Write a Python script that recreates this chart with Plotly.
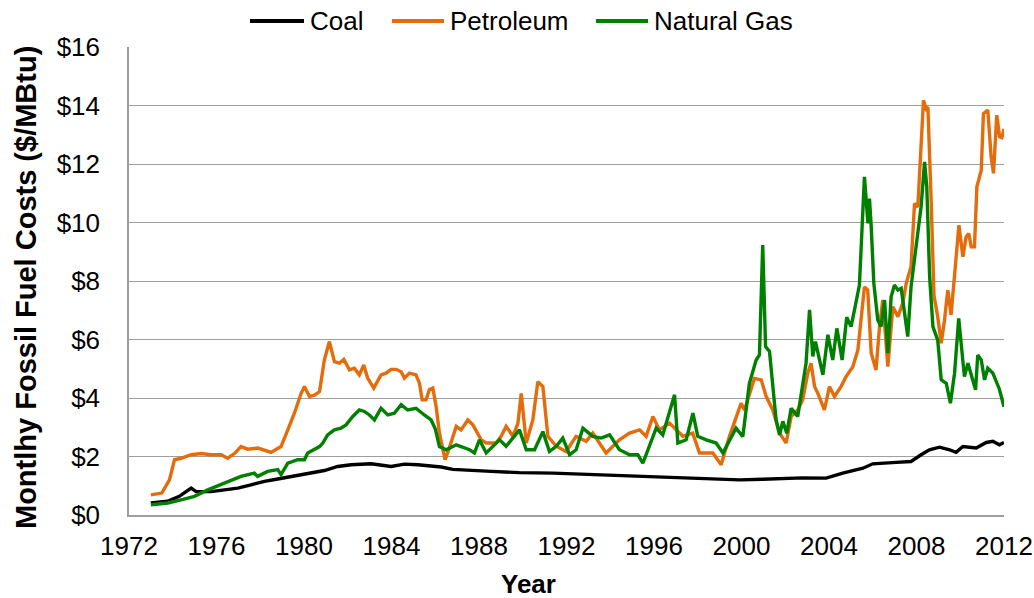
import plotly.graph_objects as go

# ---- data ----
coal_years = [1973.0, 1973.77, 1974.3, 1974.84, 1975.07, 1975.75, 1976.36, 1976.97, 1977.58, 1978.19,
              1978.8, 1979.41, 1980.17, 1980.93, 1981.54, 1982.15, 1983.07, 1983.98, 1984.59, 1985.2,
              1986.27, 1986.8, 1988.33, 1989.85, 1991.38, 1992.9, 1994.42, 1995.95, 1997.47, 1999.0,
              1999.91, 2000.97, 2002.8, 2003.87, 2004.63, 2005.55, 2006.0, 2007.07, 2007.75, 2008.21,
              2008.59, 2009.05, 2009.51, 2009.81, 2010.12, 2010.73, 2011.19, 2011.49, 2011.79, 2012.0]
coal_vals = [0.41, 0.47, 0.64, 0.92, 0.8, 0.8, 0.86, 0.92, 1.03, 1.15,
             1.23, 1.32, 1.43, 1.52, 1.66, 1.72, 1.75, 1.66, 1.74, 1.72,
             1.64, 1.56, 1.5, 1.45, 1.43, 1.39, 1.34, 1.32, 1.28, 1.24,
             1.2, 1.22, 1.27, 1.26, 1.43, 1.6, 1.75, 1.8, 1.83, 2.06,
             2.23, 2.32, 2.23, 2.14, 2.34, 2.29, 2.48, 2.52, 2.4, 2.48]

petro_years = [1973.0, 1973.5, 1973.85, 1974.08, 1974.38, 1974.84, 1975.3, 1975.75, 1976.21, 1976.51,
               1976.82, 1977.12, 1977.43, 1977.89, 1978.49, 1978.95, 1979.26, 1979.56, 1979.87, 1980.02,
               1980.25, 1980.48, 1980.71, 1980.93, 1981.16, 1981.39, 1981.62, 1981.82, 1982.08, 1982.3,
               1982.53, 1982.73, 1982.91, 1983.19, 1983.52, 1983.75, 1983.98, 1984.21, 1984.44, 1984.59,
               1984.82, 1985.12, 1985.28, 1985.4, 1985.58, 1985.73, 1985.89, 1986.04, 1986.19, 1986.45,
               1986.6, 1986.96, 1987.18, 1987.49, 1987.72, 1987.95, 1988.1, 1988.33, 1988.78, 1989.01,
               1989.24, 1989.55, 1989.78, 1989.93, 1990.16, 1990.46, 1990.69, 1990.92, 1991.15, 1991.53,
               1991.98, 1992.44, 1992.9, 1993.2, 1993.81, 1994.42, 1994.88, 1995.34, 1995.64, 1995.95,
               1996.25, 1996.71, 1997.32, 1997.77, 1998.08, 1998.69, 1999.07, 1999.45, 1999.75, 1999.98,
               2000.14, 2000.36, 2000.59, 2000.9, 2001.13, 2001.43, 2001.74, 2002.04, 2002.27, 2002.57,
               2002.8, 2003.03, 2003.18, 2003.34, 2003.49, 2003.79, 2004.02, 2004.25, 2004.55, 2004.78,
               2005.09, 2005.32, 2005.47, 2005.62, 2005.77, 2005.93, 2006.15, 2006.31, 2006.46, 2006.69,
               2006.92, 2007.15, 2007.37, 2007.53, 2007.75, 2007.91, 2008.06, 2008.21, 2008.32, 2008.44,
               2008.52, 2008.67, 2008.8, 2008.97, 2009.13, 2009.28, 2009.43, 2009.58, 2009.81, 2009.94,
               2010.12, 2010.27, 2010.39, 2010.5, 2010.65, 2010.76, 2010.96, 2011.06, 2011.26, 2011.41,
               2011.52, 2011.67, 2011.8, 2011.9, 2012.0]
petro_vals = [0.69, 0.75, 1.2, 1.89, 1.94, 2.06, 2.1, 2.06, 2.06, 1.94,
              2.1, 2.34, 2.25, 2.29, 2.14, 2.34, 2.91, 3.48, 4.16, 4.39,
              4.05, 4.1, 4.22, 5.3, 5.93, 5.24, 5.19, 5.32, 4.96, 5.02,
              4.79, 5.13, 4.68, 4.34, 4.79, 4.85, 4.98, 4.98, 4.9, 4.68,
              4.85, 4.79, 4.5, 3.94, 3.94, 4.28, 4.34, 3.71, 2.8, 1.89,
              2.2, 3.03, 2.91, 3.25, 3.08, 2.8, 2.57, 2.46, 2.46, 2.69,
              3.03, 2.69, 3.14, 4.16, 2.46, 3.25, 4.56, 4.39, 2.69, 2.35,
              2.17, 2.69, 2.52, 2.8, 2.12, 2.57, 2.8, 2.91, 2.69, 3.37,
              2.91, 3.14, 2.69, 2.8, 2.12, 2.12, 1.72, 2.69, 3.36, 3.82,
              3.59, 4.16, 4.67, 4.62, 4.05, 3.59, 2.8, 2.46, 3.37, 3.59,
              3.94, 4.85, 5.19, 4.39, 4.16, 3.59, 4.39, 4.05, 4.39, 4.73,
              5.07, 5.64, 6.66, 7.8, 7.69, 5.53, 4.96, 6.44, 7.35, 5.07,
              7.12, 6.78, 7.24, 7.92, 8.49, 10.65, 10.53, 12.81, 14.18, 13.89,
              13.95, 10.76, 7.5, 6.78, 5.87, 6.66, 7.69, 6.84, 8.72, 9.91,
              8.83, 9.51, 9.62, 9.17, 9.17, 11.22, 11.79, 13.72, 13.84, 12.25,
              11.68, 13.67, 12.93, 12.9, 13.2]

gas_years = [1973.0, 1973.77, 1974.38, 1974.99, 1975.6, 1976.36, 1977.12, 1977.73, 1977.88, 1978.34,
             1978.8, 1978.95, 1979.26, 1979.71, 1980.02, 1980.17, 1980.48, 1980.71, 1980.86, 1981.08,
             1981.39, 1981.69, 1981.92, 1982.23, 1982.53, 1982.76, 1982.99, 1983.22, 1983.52, 1983.83,
             1984.13, 1984.44, 1984.74, 1985.12, 1985.5, 1985.81, 1986.0, 1986.19, 1986.5, 1986.96,
             1987.57, 1987.79, 1988.02, 1988.33, 1988.94, 1989.24, 1989.85, 1990.16, 1990.54, 1990.92,
             1991.22, 1991.53, 1991.83, 1992.14, 1992.44, 1992.75, 1993.2, 1993.58, 1993.97, 1994.42,
             1994.88, 1995.26, 1995.49, 1995.79, 1996.1, 1996.4, 1996.71, 1996.94, 1997.09, 1997.47,
             1997.78, 1998.0, 1998.39, 1998.84, 1999.15, 1999.45, 1999.75, 2000.06, 2000.36, 2000.67,
             2000.82, 2000.97, 2001.1, 2001.28, 2001.58, 2001.74, 2001.89, 2002.07, 2002.27, 2002.57,
             2002.73, 2002.95, 2003.11, 2003.26, 2003.38, 2003.72, 2003.95, 2004.17, 2004.36, 2004.6,
             2004.81, 2005.01, 2005.21, 2005.39, 2005.62, 2005.78, 2005.85, 2005.93, 2006.05, 2006.23,
             2006.38, 2006.54, 2006.69, 2006.84, 2006.99, 2007.15, 2007.3, 2007.6, 2007.75, 2007.91,
             2008.21, 2008.37, 2008.47, 2008.6, 2008.75, 2008.97, 2009.13, 2009.36, 2009.55, 2009.74,
             2009.93, 2010.19, 2010.35, 2010.7, 2010.8, 2010.96, 2011.11, 2011.26, 2011.49, 2011.79,
             2012.0]
gas_vals = [0.35, 0.41, 0.52, 0.64, 0.86, 1.09, 1.32, 1.43, 1.32, 1.49,
            1.55, 1.38, 1.77, 1.89, 1.89, 2.12, 2.23, 2.34, 2.46, 2.74,
            2.91, 2.97, 3.08, 3.37, 3.59, 3.54, 3.42, 3.25, 3.65, 3.42,
            3.48, 3.77, 3.59, 3.65, 3.42, 3.25, 2.95, 2.34, 2.23, 2.4,
            2.23, 2.12, 2.57, 2.12, 2.57, 2.35, 2.91, 2.23, 2.23, 2.85,
            2.17, 2.35, 2.63, 2.06, 2.23, 2.97, 2.69, 2.63, 2.74, 2.23,
            2.06, 2.06, 1.77, 2.35, 2.97, 2.74, 3.54, 4.11, 2.46, 2.57,
            3.48, 2.69, 2.57, 2.46, 2.12, 2.57, 2.97, 2.68, 4.5, 5.3,
            5.47, 9.23, 5.76, 5.59, 3.26, 2.74, 3.2, 2.8, 3.65, 3.37,
            4.11, 5.19, 7.01, 5.42, 5.93, 4.79, 6.16, 5.3, 6.38, 5.3,
            6.76, 6.44, 7.18, 7.86, 11.56, 9.97, 10.82, 9.85, 7.92, 6.67,
            6.44, 7.35, 5.53, 7.46, 7.86, 7.69, 7.75, 6.1, 7.8, 8.72,
            10.54, 12.07, 11.22, 8.15, 6.44, 5.98, 4.62, 4.5, 3.82, 4.85,
            6.72, 4.73, 5.19, 4.28, 5.47, 5.3, 4.62, 5.02, 4.85, 4.3,
            3.7]

series_names = ["Coal", "Petroleum", "Natural Gas"]
series_colors = ["#000000", "#E46C0A", "#008000"]

x_ticks = [1972, 1976, 1980, 1984, 1988, 1992, 1996, 2000, 2004, 2008, 2012]
y_ticks = [0, 2, 4, 6, 8, 10, 12, 14, 16]
y_tick_labels = ["$0", "$2", "$4", "$6", "$8", "$10", "$12", "$14", "$16"]

FONT = "Liberation Sans, Arial, sans-serif"
GRID = "#9e9e9e"
W, H = 1034, 598
L, R, T, B = 129, 30, 47, 83
PW, PH = W - L - R, H - T - B


def px_x(px):
    return (px - L) / PW


def px_y(py):
    return (H - B - py) / PH


fig = go.Figure()
for xs, ys, name, col in zip([coal_years, petro_years, gas_years],
                             [coal_vals, petro_vals, gas_vals],
                             series_names, series_colors):
    fig.add_trace(go.Scatter(x=xs, y=ys, mode="lines", name=name,
                             line=dict(color=col, width=3.4), showlegend=False))

# legend drawn at the top (line sample + label), like the reference
legend_line_px = [(250, 304), (392, 444), (596, 648)]
legend_text_px = [308, 448, 652]
shapes = []
annotations = []
for (x0, x1), tx, name, col in zip(legend_line_px, legend_text_px, series_names, series_colors):
    shapes.append(dict(type="line", xref="paper", yref="paper",
                       x0=px_x(x0), x1=px_x(x1), y0=px_y(21), y1=px_y(21),
                       line=dict(color=col, width=4)))
    annotations.append(dict(text=name, xref="paper", yref="paper", x=px_x(tx), y=px_y(21),
                            xanchor="left", yanchor="middle", showarrow=False,
                            font=dict(size=26)))

annotations.append(dict(text="<b>Year</b>", xref="paper", yref="paper",
                        x=px_x(528), y=px_y(584), xanchor="center", yanchor="middle",
                        showarrow=False, font=dict(size=26)))
annotations.append(dict(text="<b>Montlhy Fossil Fuel Costs ($/MBtu)</b>", xref="paper", yref="paper",
                        x=px_x(26), y=px_y(288), xanchor="center", yanchor="middle",
                        textangle=-90, showarrow=False, font=dict(size=29)))

fig.update_layout(
    width=W, height=H,
    margin=dict(l=L, r=R, t=T, b=B, autoexpand=False),
    paper_bgcolor="white", plot_bgcolor="white",
    font=dict(family=FONT, size=26, color="#000000"),
    showlegend=False,
    xaxis=dict(range=[1972, 2012], tickvals=x_ticks, ticktext=[str(t) for t in x_ticks],
               showgrid=False, zeroline=False, showline=True, linecolor=GRID, linewidth=1.5,
               ticks="", tickfont=dict(size=26), ticklabelstandoff=7),
    yaxis=dict(range=[0, 16], tickvals=y_ticks, ticktext=y_tick_labels,
               showgrid=True, gridcolor=GRID, gridwidth=1.3, zeroline=False,
               showline=True, linecolor=GRID, linewidth=1.5, ticks="",
               tickfont=dict(size=26), ticklabelstandoff=22),
    shapes=shapes,
    annotations=annotations,
)

fig.write_html("out.html", config={"displayModeBar": False},
               post_script="document.body.style.margin='0';document.body.style.padding='0';")
